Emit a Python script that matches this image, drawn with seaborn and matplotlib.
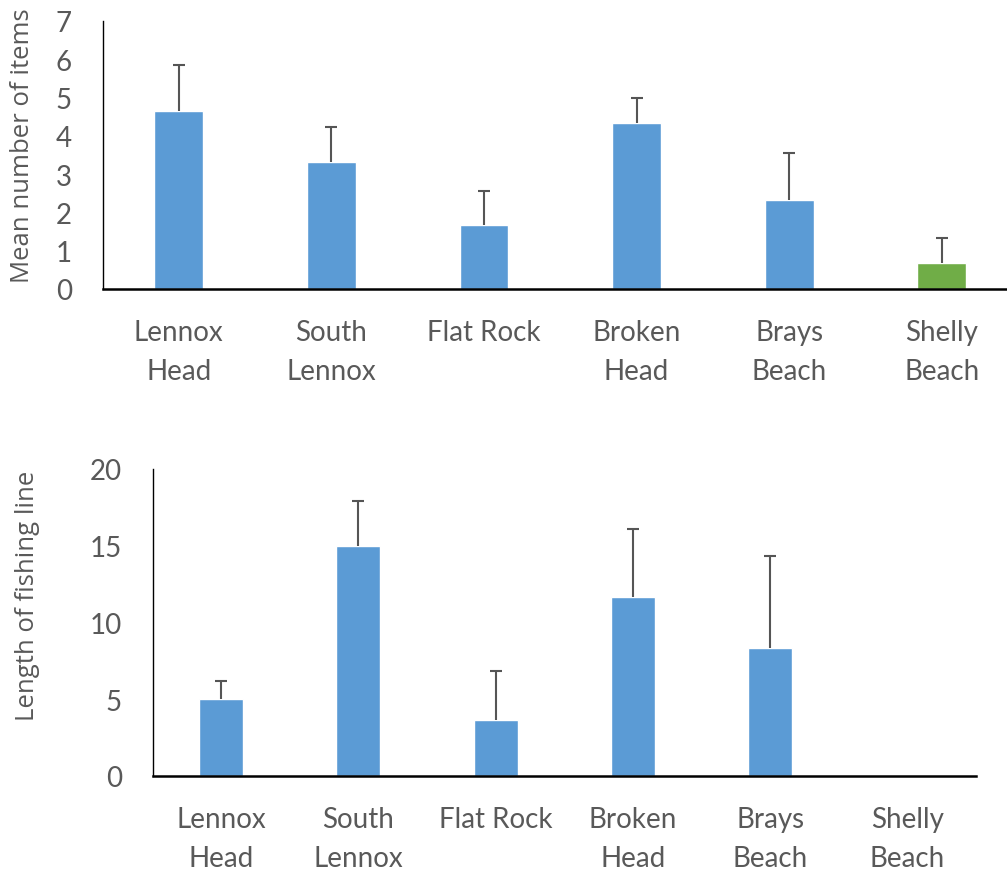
import matplotlib
matplotlib.use("Agg")
import matplotlib.pyplot as plt
import seaborn as sns
import numpy as np
import pandas as pd

# Beach survey sites
sites = ["Lennox\nHead", "South\nLennox", "Flat Rock", "Broken\nHead", "Brays\nBeach", "Shelly\nBeach"]

# Mean number of debris items per site and upper error (SE)
items_mean = [4.65, 3.33, 1.67, 4.33, 2.32, 0.67]
items_err = [1.21, 0.89, 0.88, 0.67, 1.22, 0.67]

# Mean length of fishing line per site and upper error (SE)
line_mean = [5.0, 15.0, 3.63, 11.65, 8.31, 0.0]
line_err = [1.15, 2.93, 3.22, 4.45, 6.04, 0.0]

BLUE = "#5B9BD5"
GREEN = "#70AD47"
TEXT = "#595959"
ERR = "#555555"

sns.set_theme(style="white")
plt.rcParams["font.family"] = ["Lato", "DejaVu Sans"]

W, H = 1007, 870
fig = plt.figure(figsize=(W / 100, H / 100), dpi=100)


def px_axes(left, top, right, bottom):
    return fig.add_axes([left / W, (H - bottom) / H, (right - left) / W, (bottom - top) / H])


def draw_panel(ax, means, errs, colors, ymax, ystep, ylabel, label_xy):
    df = pd.DataFrame({"site": sites, "value": means})
    sns.barplot(data=df, x="site", y="value", hue="site", palette=colors,
                width=0.32, legend=False, ax=ax, saturation=1)
    idx = [i for i, e in enumerate(errs) if e > 0]
    _, caps, _ = ax.errorbar(idx, [means[i] for i in idx],
                             yerr=[[0] * len(idx), [errs[i] for i in idx]],
                             fmt="none", ecolor=ERR, elinewidth=1.5,
                             capsize=4.5, capthick=1.5)
    # one-sided (plus) error bars: hide the cap sitting on the bar top
    caps[0].set_visible(False)
    ax.set_ylim(0, ymax)
    ax.set_xlim(-0.5, len(sites) - 0.5)
    ax.set_yticks(np.arange(0, ymax + 0.01, ystep))
    ax.set_xlabel("")
    ax.set_ylabel(ylabel, color=TEXT, fontsize=18.5,
                  family=["Open Sans", "DejaVu Sans"], va="center")
    ax.yaxis.set_label_coords(*label_xy)
    for s in ["top", "right"]:
        ax.spines[s].set_visible(False)
    ax.spines["bottom"].set_color("black")
    ax.spines["bottom"].set_linewidth(1.8)
    ax.spines["left"].set_color("black")
    ax.spines["left"].set_linewidth(1.0)
    ax.tick_params(axis="both", length=0, labelsize=20, labelcolor=TEXT)
    ax.tick_params(axis="x", pad=21.5)
    ax.tick_params(axis="y", pad=22)
    for t in ax.get_xticklabels():
        t.set_linespacing(1.62)


ax1 = px_axes(102.5, 22, 1018, 290)
draw_panel(ax1, items_mean, items_err, [BLUE] * 5 + [GREEN], 7, 1,
           "Mean number of items", (-0.087, 0.537))

ax2 = px_axes(152.5, 470, 976, 776.7)
draw_panel(ax2, line_mean, line_err, [BLUE] * 6, 20, 5,
           "Length of fishing line", (-0.152, 0.589))

fig.savefig("out.png", dpi=100)
